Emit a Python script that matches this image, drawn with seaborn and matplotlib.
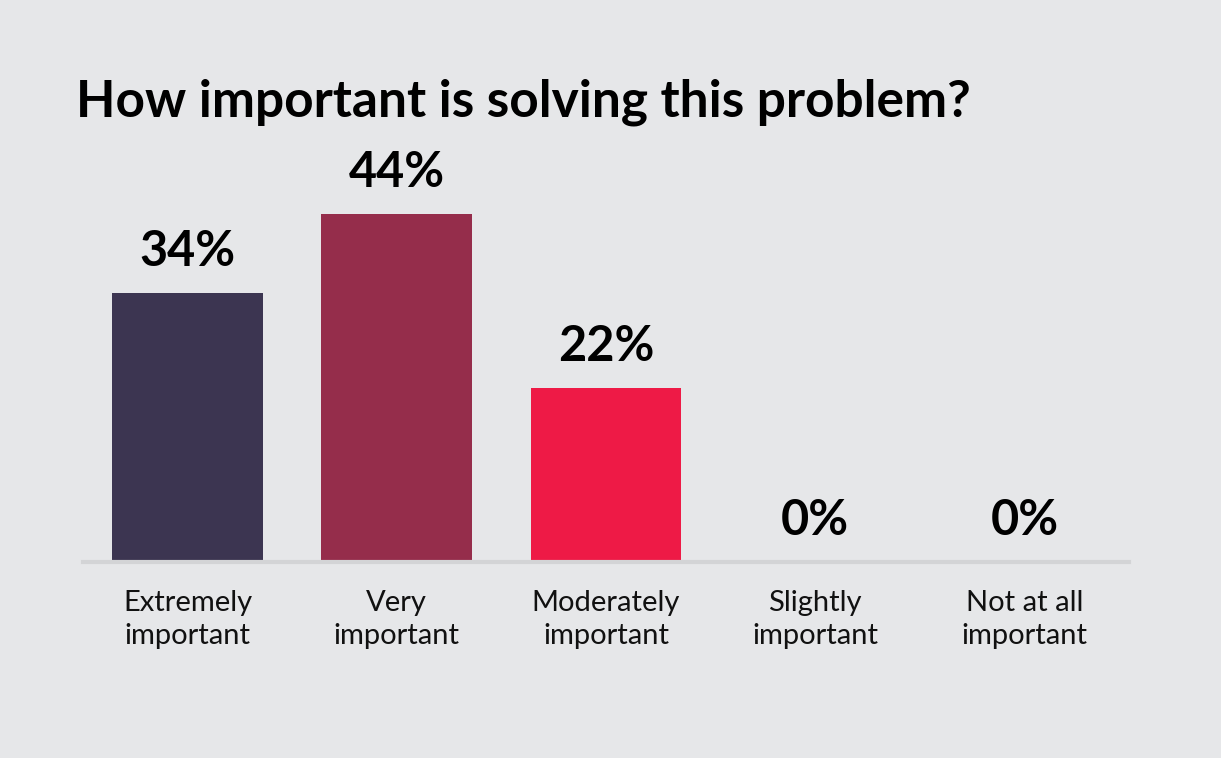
import matplotlib
matplotlib.use("Agg")
import matplotlib.pyplot as plt
import seaborn as sns
import pandas as pd

categories = ["Extremely\nimportant", "Very\nimportant", "Moderately\nimportant",
              "Slightly\nimportant", "Not at all\nimportant"]
values = [34, 44, 22, 0, 0]
labels = ["34%", "44%", "22%", "0%", "0%"]
colors = ["#3c3551", "#952d4b", "#ee1a46", "#ee1a46", "#ee1a46"]

bg = "#e6e7e9"
sns.set_theme(style="white")
plt.rcParams["font.family"] = ["Lato", "DejaVu Sans"]

df = pd.DataFrame({"cat": categories, "val": values})

fig = plt.figure(figsize=(12.21, 7.58), dpi=100, facecolor=bg)
ax = fig.add_axes([83 / 1221, (758 - 562) / 758, (1129 - 83) / 1221, 395 / 758])
ax.set_facecolor(bg)

sns.barplot(data=df, x="cat", y="val", hue="cat", palette=colors, legend=False,
            width=0.72, saturation=1, linewidth=0, ax=ax)

ax.set_xlim(-0.5, 4.5)
ax.set_ylim(0, 50)
for i, (v, lab) in enumerate(zip(values, labels)):
    ax.annotate(lab, (i, v), xytext=(0, 14), textcoords="offset points",
                ha="center", va="bottom", fontsize=35, fontweight="bold", color="#000000")

for s in ["top", "right", "left"]:
    ax.spines[s].set_visible(False)
ax.spines["bottom"].set_color("#d3d4d6")
ax.spines["bottom"].set_linewidth(3)
ax.set_yticks([])
ax.set_xlabel("")
ax.set_ylabel("")
ax.tick_params(axis="x", length=0, pad=20, labelsize=21, labelcolor="#111111")
for t in ax.get_xticklabels():
    t.set_linespacing(1.35)

fig.text(76 / 1221, 1 - 116 / 758, "How important is solving this problem?",
         fontsize=37, fontweight="bold", color="#000000", ha="left", va="baseline")

fig.savefig("out.png", dpi=100, facecolor=bg)
